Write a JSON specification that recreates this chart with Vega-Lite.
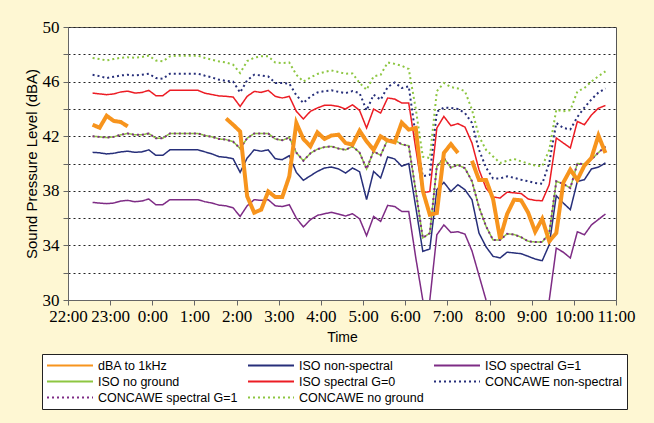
{
"$schema": "https://vega.github.io/schema/vega-lite/v6.json",
"width": 548,
"height": 273,
"autosize": {"type": "none"},
"padding": {"left": 68, "top": 27, "right": 38, "bottom": 123},
"background": "#FEF7D3",
"config": {
  "view": {"stroke": "#555555", "fill": "#ffffff", "strokeWidth": 1},
  "axis": {"domainColor": "#666666", "tickColor": "#666666", "labelColor": "#000000", "titleColor": "#000000", "titleFontWeight": "normal"}
},
"encoding": {
  "x": {
    "field": "h", "type": "quantitative",
    "scale": {"domain": [0, 13], "nice": false, "zero": false},
    "axis": {"title": "Time", "values": [0,1,2,3,4,5,6,7,8,9,10,11,12,13],
      "labelExpr": "((datum.value + 22) % 24) + ':00'", "grid": false,
      "labelFont": "Liberation Sans Narrow", "labelFontSize": 17, "labelOverlap": false, "labelFlush": false,
      "labelPadding": 3, "tickSize": 5, "titleFont": "Liberation Sans", "titleFontSize": 14, "titlePadding": 6}
  },
  "y": {
    "field": "value", "type": "quantitative",
    "scale": {"domain": [30, 50], "nice": false, "zero": false},
    "axis": {"title": "Sound Pressure Level (dBA)", "values": [30,32,34,36,38,40,42,44,46,48,50],
      "labelExpr": "datum.value % 4 == 2 ? datum.label : ''",
      "grid": true, "gridDash": [2,3], "gridColor": "#222222", "gridWidth": 1,
      "labelFont": "Liberation Sans Narrow", "labelFontSize": 17, "labelPadding": 4, "tickSize": 5,
      "titleFont": "Liberation Sans", "titleFontSize": 15, "titlePadding": 3}
  },
  "color": {
    "field": "series", "type": "nominal",
    "scale": {
      "domain": ["dBA to 1kHz","ISO non-spectral","ISO spectral G=1","ISO no ground","ISO spectral G=0","CONCAWE non-spectral","CONCAWE spectral G=1","CONCAWE no ground"],
      "range": ["#F7941D","#272F7A","#7E2C85","#8DC641","#EC1C24","#272F7A","#7E2C85","#8DC641"]
    },
    "legend": {
      "title": null, "orient": "none", "direction": "horizontal", "legendX": -26, "legendY": 327, "columns": 3,
      "symbolType": "stroke", "symbolSize": 2116, "symbolStrokeWidth": 2,
      "labelFont": "Liberation Sans", "labelFontSize": 12.5, "labelColor": "#000000", "labelLimit": 300,
      "labelOffset": 4, "padding": 4, "fillColor": "#ffffff", "strokeColor": "#222222",
      "columnPadding": 9, "rowPadding": 1, "clipHeight": 15
    }
  },
  "strokeDash": {
    "field": "series", "type": "nominal",
    "scale": {
      "domain": ["dBA to 1kHz","ISO non-spectral","ISO spectral G=1","ISO no ground","ISO spectral G=0","CONCAWE non-spectral","CONCAWE spectral G=1","CONCAWE no ground"],
      "range": [[1,0],[1,0],[1,0],[1,0],[1,0],[2,3],[2,3],[2,3]]
    }
  },
  "strokeWidth": {
    "condition": [
      {"test": "datum.series === 'dBA to 1kHz'", "value": 4},
      {"test": "indexof(datum.series, 'CONCAWE') >= 0", "value": 2}
    ],
    "value": 1.5
  }
},
"layer": [
{
"data": {"values": [
{"h":0.5833,"ISO non-spectral":40.82,"ISO no ground":42.0,"ISO spectral G=0":45.16,"CONCAWE non-spectral":46.5,"CONCAWE spectral G=1":42.0,"CONCAWE no ground":47.73},
{"h":0.75,"ISO non-spectral":40.78,"ISO no ground":41.95,"ISO spectral G=0":45.1,"CONCAWE non-spectral":46.4,"CONCAWE spectral G=1":41.95,"CONCAWE no ground":47.65},
{"h":0.9167,"ISO non-spectral":40.7,"ISO no ground":41.9,"ISO spectral G=0":45.04,"CONCAWE non-spectral":46.26,"CONCAWE spectral G=1":41.9,"CONCAWE no ground":47.55},
{"h":1.0833,"ISO non-spectral":40.75,"ISO no ground":41.95,"ISO spectral G=0":45.1,"CONCAWE non-spectral":46.35,"CONCAWE spectral G=1":41.95,"CONCAWE no ground":47.65},
{"h":1.25,"ISO non-spectral":40.85,"ISO no ground":42.1,"ISO spectral G=0":45.24,"CONCAWE non-spectral":46.45,"CONCAWE spectral G=1":42.1,"CONCAWE no ground":47.75},
{"h":1.4167,"ISO non-spectral":40.9,"ISO no ground":42.2,"ISO spectral G=0":45.3,"CONCAWE non-spectral":46.5,"CONCAWE spectral G=1":42.2,"CONCAWE no ground":47.78},
{"h":1.5833,"ISO non-spectral":40.82,"ISO no ground":42.1,"ISO spectral G=0":45.16,"CONCAWE non-spectral":46.45,"CONCAWE spectral G=1":42.1,"CONCAWE no ground":47.75},
{"h":1.75,"ISO non-spectral":40.85,"ISO no ground":42.1,"ISO spectral G=0":45.2,"CONCAWE non-spectral":46.5,"CONCAWE spectral G=1":42.1,"CONCAWE no ground":47.8},
{"h":1.9167,"ISO non-spectral":41.0,"ISO no ground":42.2,"ISO spectral G=0":45.36,"CONCAWE non-spectral":46.58,"CONCAWE spectral G=1":42.2,"CONCAWE no ground":47.9},
{"h":2.0833,"ISO non-spectral":40.6,"ISO no ground":41.85,"ISO spectral G=0":44.97,"CONCAWE non-spectral":46.26,"CONCAWE spectral G=1":41.85,"CONCAWE no ground":47.55},
{"h":2.25,"ISO non-spectral":40.6,"ISO no ground":41.85,"ISO spectral G=0":44.97,"CONCAWE non-spectral":46.2,"CONCAWE spectral G=1":41.85,"CONCAWE no ground":47.48},
{"h":2.4167,"ISO non-spectral":41.0,"ISO no ground":42.2,"ISO spectral G=0":45.36,"CONCAWE non-spectral":46.58,"CONCAWE spectral G=1":42.2,"CONCAWE no ground":47.85},
{"h":2.5833,"ISO non-spectral":41.0,"ISO no ground":42.2,"ISO spectral G=0":45.36,"CONCAWE non-spectral":46.58,"CONCAWE spectral G=1":42.2,"CONCAWE no ground":47.9},
{"h":2.75,"ISO non-spectral":41.0,"ISO no ground":42.2,"ISO spectral G=0":45.36,"CONCAWE non-spectral":46.58,"CONCAWE spectral G=1":42.2,"CONCAWE no ground":47.9},
{"h":2.9167,"ISO non-spectral":41.0,"ISO no ground":42.2,"ISO spectral G=0":45.36,"CONCAWE non-spectral":46.58,"CONCAWE spectral G=1":42.2,"CONCAWE no ground":47.9},
{"h":3.0833,"ISO non-spectral":41.0,"ISO no ground":42.2,"ISO spectral G=0":45.36,"CONCAWE non-spectral":46.58,"CONCAWE spectral G=1":42.2,"CONCAWE no ground":47.9},
{"h":3.25,"ISO non-spectral":40.85,"ISO no ground":42.05,"ISO spectral G=0":45.15,"CONCAWE non-spectral":46.43,"CONCAWE spectral G=1":42.05,"CONCAWE no ground":47.73},
{"h":3.4167,"ISO non-spectral":40.7,"ISO no ground":41.95,"ISO spectral G=0":45.05,"CONCAWE non-spectral":46.3,"CONCAWE spectral G=1":41.95,"CONCAWE no ground":47.6},
{"h":3.5833,"ISO non-spectral":40.5,"ISO no ground":41.8,"ISO spectral G=0":44.95,"CONCAWE non-spectral":46.14,"CONCAWE spectral G=1":41.8,"CONCAWE no ground":47.48},
{"h":3.75,"ISO non-spectral":40.45,"ISO no ground":41.75,"ISO spectral G=0":44.92,"CONCAWE non-spectral":46.05,"CONCAWE spectral G=1":41.75,"CONCAWE no ground":47.4},
{"h":3.9167,"ISO non-spectral":40.35,"ISO no ground":41.6,"ISO spectral G=0":44.87,"CONCAWE non-spectral":46.0,"CONCAWE spectral G=1":41.6,"CONCAWE no ground":47.24},
{"h":4.0833,"ISO non-spectral":39.35,"ISO no ground":41.1,"ISO spectral G=0":44.18,"CONCAWE non-spectral":45.2,"CONCAWE spectral G=1":41.1,"CONCAWE no ground":46.63},
{"h":4.25,"ISO non-spectral":40.4,"ISO no ground":41.85,"ISO spectral G=0":44.92,"CONCAWE non-spectral":46.1,"CONCAWE spectral G=1":41.85,"CONCAWE no ground":47.5},
{"h":4.4167,"ISO non-spectral":41.0,"ISO no ground":42.2,"ISO spectral G=0":45.28,"CONCAWE non-spectral":46.5,"CONCAWE spectral G=1":42.2,"CONCAWE no ground":47.75},
{"h":4.5833,"ISO non-spectral":40.9,"ISO no ground":42.2,"ISO spectral G=0":45.21,"CONCAWE non-spectral":46.45,"CONCAWE spectral G=1":42.2,"CONCAWE no ground":47.85},
{"h":4.75,"ISO non-spectral":41.0,"ISO no ground":42.2,"ISO spectral G=0":45.36,"CONCAWE non-spectral":46.38,"CONCAWE spectral G=1":42.2,"CONCAWE no ground":47.85},
{"h":4.9167,"ISO non-spectral":40.35,"ISO no ground":41.8,"ISO spectral G=0":44.92,"CONCAWE non-spectral":45.9,"CONCAWE spectral G=1":41.8,"CONCAWE no ground":47.4},
{"h":5.0833,"ISO non-spectral":40.28,"ISO no ground":41.7,"ISO spectral G=0":44.8,"CONCAWE non-spectral":45.9,"CONCAWE spectral G=1":41.7,"CONCAWE no ground":47.36},
{"h":5.25,"ISO non-spectral":40.57,"ISO no ground":41.9,"ISO spectral G=0":44.92,"CONCAWE non-spectral":45.85,"CONCAWE spectral G=1":41.9,"CONCAWE no ground":47.4},
{"h":5.4167,"ISO non-spectral":39.35,"ISO no ground":40.8,"ISO spectral G=0":43.82,"CONCAWE non-spectral":45.0,"CONCAWE spectral G=1":40.8,"CONCAWE no ground":46.5},
{"h":5.5833,"ISO non-spectral":38.77,"ISO no ground":40.2,"ISO spectral G=0":43.26,"CONCAWE non-spectral":44.43,"CONCAWE spectral G=1":40.2,"CONCAWE no ground":46.01},
{"h":5.75,"ISO non-spectral":39.1,"ISO no ground":40.75,"ISO spectral G=0":43.82,"CONCAWE non-spectral":44.9,"CONCAWE spectral G=1":40.75,"CONCAWE no ground":46.3},
{"h":5.9167,"ISO non-spectral":39.42,"ISO no ground":41.05,"ISO spectral G=0":44.07,"CONCAWE non-spectral":45.2,"CONCAWE spectral G=1":41.05,"CONCAWE no ground":46.56},
{"h":6.0833,"ISO non-spectral":39.67,"ISO no ground":41.2,"ISO spectral G=0":44.26,"CONCAWE non-spectral":45.3,"CONCAWE spectral G=1":41.2,"CONCAWE no ground":46.7},
{"h":6.25,"ISO non-spectral":39.74,"ISO no ground":41.25,"ISO spectral G=0":44.26,"CONCAWE non-spectral":45.36,"CONCAWE spectral G=1":41.25,"CONCAWE no ground":46.82},
{"h":6.4167,"ISO non-spectral":39.6,"ISO no ground":41.1,"ISO spectral G=0":44.18,"CONCAWE non-spectral":45.25,"CONCAWE spectral G=1":41.1,"CONCAWE no ground":46.7},
{"h":6.5833,"ISO non-spectral":39.3,"ISO no ground":41.0,"ISO spectral G=0":43.99,"CONCAWE non-spectral":45.16,"CONCAWE spectral G=1":41.0,"CONCAWE no ground":46.58},
{"h":6.75,"ISO non-spectral":39.67,"ISO no ground":41.25,"ISO spectral G=0":44.3,"CONCAWE non-spectral":45.3,"CONCAWE spectral G=1":41.25,"CONCAWE no ground":46.6},
{"h":6.9167,"ISO non-spectral":39.4,"ISO no ground":40.8,"ISO spectral G=0":43.89,"CONCAWE non-spectral":45.16,"CONCAWE spectral G=1":40.8,"CONCAWE no ground":45.9},
{"h":7.0833,"ISO non-spectral":37.35,"ISO no ground":39.6,"ISO spectral G=0":42.6,"CONCAWE non-spectral":43.89,"CONCAWE spectral G=1":39.6,"CONCAWE no ground":45.4},
{"h":7.25,"ISO non-spectral":39.42,"ISO no ground":40.9,"ISO spectral G=0":43.99,"CONCAWE non-spectral":45.04,"CONCAWE spectral G=1":40.9,"CONCAWE no ground":46.38},
{"h":7.4167,"ISO non-spectral":38.94,"ISO no ground":40.6,"ISO spectral G=0":43.7,"CONCAWE non-spectral":44.67,"CONCAWE spectral G=1":40.6,"CONCAWE no ground":46.5},
{"h":7.5833,"ISO non-spectral":40.48,"ISO no ground":41.75,"ISO spectral G=0":44.8,"CONCAWE non-spectral":45.6,"CONCAWE spectral G=1":41.75,"CONCAWE no ground":47.4},
{"h":7.75,"ISO non-spectral":40.33,"ISO no ground":41.7,"ISO spectral G=0":44.72,"CONCAWE non-spectral":45.94,"CONCAWE spectral G=1":41.7,"CONCAWE no ground":47.3},
{"h":7.9167,"ISO non-spectral":39.8,"ISO no ground":41.4,"ISO spectral G=0":44.43,"CONCAWE non-spectral":45.53,"CONCAWE spectral G=1":41.4,"CONCAWE no ground":47.16},
{"h":8.0833,"ISO non-spectral":40.0,"ISO no ground":41.3,"ISO spectral G=0":44.43,"CONCAWE non-spectral":45.65,"CONCAWE spectral G=1":41.3,"CONCAWE no ground":46.92},
{"h":8.25,"ISO non-spectral":36.8,"ISO no ground":38.0,"ISO spectral G=0":41.1,"CONCAWE non-spectral":42.0,"CONCAWE spectral G=1":38.0,"CONCAWE no ground":44.0},
{"h":8.4167,"ISO non-spectral":33.56,"ISO no ground":34.55,"ISO spectral G=0":37.84,"CONCAWE non-spectral":39.06,"CONCAWE spectral G=1":34.55,"CONCAWE no ground":40.5},
{"h":8.5833,"ISO non-spectral":33.74,"ISO no ground":34.9,"ISO spectral G=0":37.96,"CONCAWE non-spectral":39.18,"CONCAWE spectral G=1":34.9,"CONCAWE no ground":40.4},
{"h":8.75,"ISO non-spectral":38.08,"ISO no ground":39.8,"ISO spectral G=0":42.6,"CONCAWE non-spectral":43.8,"CONCAWE spectral G=1":39.8,"CONCAWE no ground":45.3},
{"h":8.9167,"ISO non-spectral":38.62,"ISO no ground":40.4,"ISO spectral G=0":43.45,"CONCAWE non-spectral":44.1,"CONCAWE spectral G=1":40.4,"CONCAWE no ground":45.9},
{"h":9.0833,"ISO non-spectral":37.96,"ISO no ground":39.7,"ISO spectral G=0":42.77,"CONCAWE non-spectral":44.07,"CONCAWE spectral G=1":39.7,"CONCAWE no ground":45.6},
{"h":9.25,"ISO non-spectral":38.45,"ISO no ground":39.9,"ISO spectral G=0":42.92,"CONCAWE non-spectral":43.99,"CONCAWE spectral G=1":39.9,"CONCAWE no ground":45.5},
{"h":9.4167,"ISO non-spectral":38.08,"ISO no ground":39.65,"ISO spectral G=0":42.67,"CONCAWE non-spectral":43.7,"CONCAWE spectral G=1":39.65,"CONCAWE no ground":45.3},
{"h":9.5833,"ISO non-spectral":37.35,"ISO no ground":38.7,"ISO spectral G=0":41.5,"CONCAWE non-spectral":42.97,"CONCAWE spectral G=1":38.7,"CONCAWE no ground":43.94},
{"h":9.75,"ISO non-spectral":34.9,"ISO no ground":36.8,"ISO spectral G=0":39.55,"CONCAWE non-spectral":41.0,"CONCAWE spectral G=1":36.8,"CONCAWE no ground":41.99},
{"h":9.9167,"ISO non-spectral":33.9,"ISO no ground":35.4,"ISO spectral G=0":38.2,"CONCAWE non-spectral":39.7,"CONCAWE spectral G=1":35.4,"CONCAWE no ground":41.0},
{"h":10.0833,"ISO non-spectral":33.2,"ISO no ground":34.4,"ISO spectral G=0":37.55,"CONCAWE non-spectral":38.9,"CONCAWE spectral G=1":34.4,"CONCAWE no ground":40.52},
{"h":10.25,"ISO non-spectral":33.08,"ISO no ground":34.4,"ISO spectral G=0":37.47,"CONCAWE non-spectral":38.9,"CONCAWE spectral G=1":34.4,"CONCAWE no ground":40.04},
{"h":10.4167,"ISO non-spectral":33.5,"ISO no ground":34.85,"ISO spectral G=0":37.9,"CONCAWE non-spectral":39.06,"CONCAWE spectral G=1":34.85,"CONCAWE no ground":40.2},
{"h":10.5833,"ISO non-spectral":33.45,"ISO no ground":34.8,"ISO spectral G=0":37.85,"CONCAWE non-spectral":38.95,"CONCAWE spectral G=1":34.8,"CONCAWE no ground":40.33},
{"h":10.75,"ISO non-spectral":33.39,"ISO no ground":34.6,"ISO spectral G=0":37.8,"CONCAWE non-spectral":38.81,"CONCAWE spectral G=1":34.6,"CONCAWE no ground":40.16},
{"h":10.9167,"ISO non-spectral":33.2,"ISO no ground":34.3,"ISO spectral G=0":37.4,"CONCAWE non-spectral":38.7,"CONCAWE spectral G=1":34.3,"CONCAWE no ground":40.0},
{"h":11.0833,"ISO non-spectral":33.0,"ISO no ground":34.25,"ISO spectral G=0":37.3,"CONCAWE non-spectral":38.57,"CONCAWE spectral G=1":34.25,"CONCAWE no ground":39.84},
{"h":11.25,"ISO non-spectral":32.88,"ISO no ground":34.25,"ISO spectral G=0":37.27,"CONCAWE non-spectral":38.52,"CONCAWE spectral G=1":34.25,"CONCAWE no ground":39.8},
{"h":11.4167,"ISO non-spectral":34.05,"ISO no ground":34.9,"ISO spectral G=0":38.45,"CONCAWE non-spectral":40.04,"CONCAWE spectral G=1":34.9,"CONCAWE no ground":41.0},
{"h":11.5833,"ISO non-spectral":37.64,"ISO no ground":38.7,"ISO spectral G=0":41.87,"CONCAWE non-spectral":42.97,"CONCAWE spectral G=1":38.7,"CONCAWE no ground":43.94},
{"h":11.75,"ISO non-spectral":37.1,"ISO no ground":38.5,"ISO spectral G=0":41.5,"CONCAWE non-spectral":42.6,"CONCAWE spectral G=1":38.5,"CONCAWE no ground":43.82},
{"h":11.9167,"ISO non-spectral":36.62,"ISO no ground":38.2,"ISO spectral G=0":41.14,"CONCAWE non-spectral":42.5,"CONCAWE spectral G=1":38.2,"CONCAWE no ground":43.9},
{"h":12.0833,"ISO non-spectral":38.69,"ISO no ground":40.0,"ISO spectral G=0":43.08,"CONCAWE non-spectral":43.4,"CONCAWE spectral G=1":40.0,"CONCAWE no ground":45.28},
{"h":12.25,"ISO non-spectral":38.81,"ISO no ground":39.95,"ISO spectral G=0":42.84,"CONCAWE non-spectral":44.1,"CONCAWE spectral G=1":39.95,"CONCAWE no ground":45.53},
{"h":12.4167,"ISO non-spectral":39.6,"ISO no ground":40.3,"ISO spectral G=0":43.55,"CONCAWE non-spectral":44.7,"CONCAWE spectral G=1":40.3,"CONCAWE no ground":46.0},
{"h":12.5833,"ISO non-spectral":39.74,"ISO no ground":40.8,"ISO spectral G=0":44.05,"CONCAWE non-spectral":45.2,"CONCAWE spectral G=1":40.8,"CONCAWE no ground":46.4},
{"h":12.75,"ISO non-spectral":40.04,"ISO no ground":41.25,"ISO spectral G=0":44.25,"CONCAWE non-spectral":45.5,"CONCAWE spectral G=1":41.25,"CONCAWE no ground":46.75}
]},
"transform": [
  {"fold": ["ISO non-spectral","ISO no ground","ISO spectral G=0","CONCAWE non-spectral","CONCAWE spectral G=1","CONCAWE no ground"], "as": ["series","value"]}
],
"mark": {"type": "line"}
},
{
"data": {"values": [
{"series":"ISO spectral G=1","part":"p1","h":0.5833,"value":37.15},
{"series":"ISO spectral G=1","part":"p1","h":0.75,"value":37.1},
{"series":"ISO spectral G=1","part":"p1","h":0.9167,"value":37.06},
{"series":"ISO spectral G=1","part":"p1","h":1.0833,"value":37.1},
{"series":"ISO spectral G=1","part":"p1","h":1.25,"value":37.25},
{"series":"ISO spectral G=1","part":"p1","h":1.4167,"value":37.3},
{"series":"ISO spectral G=1","part":"p1","h":1.5833,"value":37.2},
{"series":"ISO spectral G=1","part":"p1","h":1.75,"value":37.25},
{"series":"ISO spectral G=1","part":"p1","h":1.9167,"value":37.4},
{"series":"ISO spectral G=1","part":"p1","h":2.0833,"value":36.98},
{"series":"ISO spectral G=1","part":"p1","h":2.25,"value":36.98},
{"series":"ISO spectral G=1","part":"p1","h":2.4167,"value":37.35},
{"series":"ISO spectral G=1","part":"p1","h":2.5833,"value":37.35},
{"series":"ISO spectral G=1","part":"p1","h":2.75,"value":37.35},
{"series":"ISO spectral G=1","part":"p1","h":2.9167,"value":37.35},
{"series":"ISO spectral G=1","part":"p1","h":3.0833,"value":37.35},
{"series":"ISO spectral G=1","part":"p1","h":3.25,"value":37.2},
{"series":"ISO spectral G=1","part":"p1","h":3.4167,"value":37.1},
{"series":"ISO spectral G=1","part":"p1","h":3.5833,"value":36.95},
{"series":"ISO spectral G=1","part":"p1","h":3.75,"value":36.9},
{"series":"ISO spectral G=1","part":"p1","h":3.9167,"value":36.75},
{"series":"ISO spectral G=1","part":"p1","h":4.0833,"value":36.12},
{"series":"ISO spectral G=1","part":"p1","h":4.25,"value":36.9},
{"series":"ISO spectral G=1","part":"p1","h":4.4167,"value":37.35},
{"series":"ISO spectral G=1","part":"p1","h":4.5833,"value":37.3},
{"series":"ISO spectral G=1","part":"p1","h":4.75,"value":37.35},
{"series":"ISO spectral G=1","part":"p1","h":4.9167,"value":36.9},
{"series":"ISO spectral G=1","part":"p1","h":5.0833,"value":36.85},
{"series":"ISO spectral G=1","part":"p1","h":5.25,"value":36.98},
{"series":"ISO spectral G=1","part":"p1","h":5.4167,"value":36.0},
{"series":"ISO spectral G=1","part":"p1","h":5.5833,"value":35.35},
{"series":"ISO spectral G=1","part":"p1","h":5.75,"value":35.88},
{"series":"ISO spectral G=1","part":"p1","h":5.9167,"value":36.2},
{"series":"ISO spectral G=1","part":"p1","h":6.0833,"value":36.32},
{"series":"ISO spectral G=1","part":"p1","h":6.25,"value":36.42},
{"series":"ISO spectral G=1","part":"p1","h":6.4167,"value":36.3},
{"series":"ISO spectral G=1","part":"p1","h":6.5833,"value":36.15},
{"series":"ISO spectral G=1","part":"p1","h":6.75,"value":36.32},
{"series":"ISO spectral G=1","part":"p1","h":6.9167,"value":35.95},
{"series":"ISO spectral G=1","part":"p1","h":7.0833,"value":34.71},
{"series":"ISO spectral G=1","part":"p1","h":7.25,"value":36.12},
{"series":"ISO spectral G=1","part":"p1","h":7.4167,"value":35.76},
{"series":"ISO spectral G=1","part":"p1","h":7.5833,"value":36.93},
{"series":"ISO spectral G=1","part":"p1","h":7.75,"value":36.85},
{"series":"ISO spectral G=1","part":"p1","h":7.9167,"value":36.49},
{"series":"ISO spectral G=1","part":"p1","h":8.0833,"value":36.49},
{"series":"ISO spectral G=1","part":"p1","h":8.25,"value":33.1},
{"series":"ISO spectral G=1","part":"p1","h":8.4167,"value":30.0},
{"series":"ISO spectral G=1","part":"p2","h":8.5833,"value":30.0},
{"series":"ISO spectral G=1","part":"p2","h":8.75,"value":34.78},
{"series":"ISO spectral G=1","part":"p2","h":8.9167,"value":35.5},
{"series":"ISO spectral G=1","part":"p2","h":9.0833,"value":34.95},
{"series":"ISO spectral G=1","part":"p2","h":9.25,"value":35.0},
{"series":"ISO spectral G=1","part":"p2","h":9.4167,"value":34.83},
{"series":"ISO spectral G=1","part":"p2","h":9.5833,"value":33.6},
{"series":"ISO spectral G=1","part":"p2","h":9.75,"value":31.8},
{"series":"ISO spectral G=1","part":"p2","h":9.9167,"value":30.0},
{"series":"ISO spectral G=1","part":"p3","h":11.4167,"value":30.0},
{"series":"ISO spectral G=1","part":"p3","h":11.5833,"value":33.8},
{"series":"ISO spectral G=1","part":"p3","h":11.75,"value":33.5},
{"series":"ISO spectral G=1","part":"p3","h":11.9167,"value":33.08},
{"series":"ISO spectral G=1","part":"p3","h":12.0833,"value":35.0},
{"series":"ISO spectral G=1","part":"p3","h":12.25,"value":34.78},
{"series":"ISO spectral G=1","part":"p3","h":12.4167,"value":35.5},
{"series":"ISO spectral G=1","part":"p3","h":12.5833,"value":35.9},
{"series":"ISO spectral G=1","part":"p3","h":12.75,"value":36.3},
{"series":"dBA to 1kHz","part":"o1","h":0.5833,"value":42.84},
{"series":"dBA to 1kHz","part":"o1","h":0.75,"value":42.62},
{"series":"dBA to 1kHz","part":"o1","h":0.9167,"value":43.5},
{"series":"dBA to 1kHz","part":"o1","h":1.0833,"value":43.12},
{"series":"dBA to 1kHz","part":"o1","h":1.25,"value":43.04},
{"series":"dBA to 1kHz","part":"o1","h":1.4167,"value":42.72},
{"series":"dBA to 1kHz","part":"o2","h":3.75,"value":43.3},
{"series":"dBA to 1kHz","part":"o2","h":3.9167,"value":42.84},
{"series":"dBA to 1kHz","part":"o2","h":4.0833,"value":42.35},
{"series":"dBA to 1kHz","part":"o2","h":4.25,"value":37.6},
{"series":"dBA to 1kHz","part":"o2","h":4.4167,"value":36.4},
{"series":"dBA to 1kHz","part":"o2","h":4.5833,"value":36.62},
{"series":"dBA to 1kHz","part":"o2","h":4.75,"value":37.95},
{"series":"dBA to 1kHz","part":"o2","h":4.9167,"value":37.54},
{"series":"dBA to 1kHz","part":"o2","h":5.0833,"value":37.54},
{"series":"dBA to 1kHz","part":"o2","h":5.25,"value":39.06},
{"series":"dBA to 1kHz","part":"o2","h":5.4167,"value":42.97},
{"series":"dBA to 1kHz","part":"o2","h":5.5833,"value":41.8},
{"series":"dBA to 1kHz","part":"o2","h":5.75,"value":41.26},
{"series":"dBA to 1kHz","part":"o2","h":5.9167,"value":42.28},
{"series":"dBA to 1kHz","part":"o2","h":6.0833,"value":41.8},
{"series":"dBA to 1kHz","part":"o2","h":6.25,"value":42.05},
{"series":"dBA to 1kHz","part":"o2","h":6.4167,"value":42.11},
{"series":"dBA to 1kHz","part":"o2","h":6.5833,"value":41.5},
{"series":"dBA to 1kHz","part":"o2","h":6.75,"value":41.38},
{"series":"dBA to 1kHz","part":"o2","h":6.9167,"value":42.4},
{"series":"dBA to 1kHz","part":"o2","h":7.0833,"value":41.62},
{"series":"dBA to 1kHz","part":"o2","h":7.25,"value":41.0},
{"series":"dBA to 1kHz","part":"o2","h":7.4167,"value":41.99},
{"series":"dBA to 1kHz","part":"o2","h":7.5833,"value":41.69},
{"series":"dBA to 1kHz","part":"o2","h":7.75,"value":41.55},
{"series":"dBA to 1kHz","part":"o2","h":7.9167,"value":43.0},
{"series":"dBA to 1kHz","part":"o2","h":8.0833,"value":42.48},
{"series":"dBA to 1kHz","part":"o2","h":8.25,"value":42.6},
{"series":"dBA to 1kHz","part":"o2","h":8.4167,"value":38.0},
{"series":"dBA to 1kHz","part":"o2","h":8.5833,"value":36.25},
{"series":"dBA to 1kHz","part":"o2","h":8.75,"value":36.37},
{"series":"dBA to 1kHz","part":"o2","h":8.9167,"value":40.77},
{"series":"dBA to 1kHz","part":"o2","h":9.0833,"value":41.42},
{"series":"dBA to 1kHz","part":"o2","h":9.25,"value":40.77},
{"series":"dBA to 1kHz","part":"o3","h":9.5833,"value":40.2},
{"series":"dBA to 1kHz","part":"o3","h":9.75,"value":38.8},
{"series":"dBA to 1kHz","part":"o3","h":9.9167,"value":38.8},
{"series":"dBA to 1kHz","part":"o3","h":10.0833,"value":37.4},
{"series":"dBA to 1kHz","part":"o3","h":10.25,"value":34.5},
{"series":"dBA to 1kHz","part":"o3","h":10.4167,"value":36.3},
{"series":"dBA to 1kHz","part":"o3","h":10.5833,"value":37.35},
{"series":"dBA to 1kHz","part":"o3","h":10.75,"value":37.3},
{"series":"dBA to 1kHz","part":"o3","h":10.9167,"value":36.4},
{"series":"dBA to 1kHz","part":"o3","h":11.0833,"value":35.0},
{"series":"dBA to 1kHz","part":"o3","h":11.25,"value":35.95},
{"series":"dBA to 1kHz","part":"o3","h":11.4167,"value":34.3},
{"series":"dBA to 1kHz","part":"o3","h":11.5833,"value":34.9},
{"series":"dBA to 1kHz","part":"o3","h":11.75,"value":38.6},
{"series":"dBA to 1kHz","part":"o3","h":11.9167,"value":39.55},
{"series":"dBA to 1kHz","part":"o3","h":12.0833,"value":38.8},
{"series":"dBA to 1kHz","part":"o3","h":12.25,"value":39.85},
{"series":"dBA to 1kHz","part":"o3","h":12.4167,"value":40.4},
{"series":"dBA to 1kHz","part":"o3","h":12.5833,"value":42.05},
{"series":"dBA to 1kHz","part":"o3","h":12.75,"value":40.77}
]},
"mark": {"type": "line"},
"encoding": {"detail": {"field": "part", "type": "nominal"}}
}
]
}
